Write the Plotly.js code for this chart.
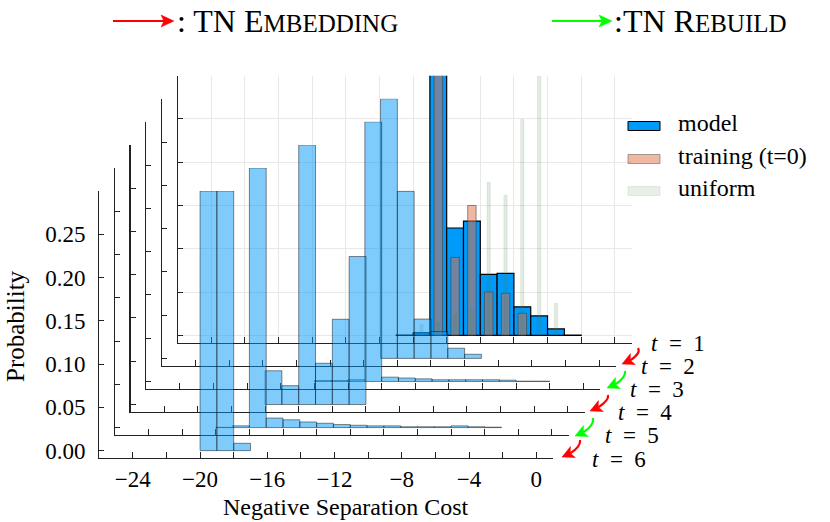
<!DOCTYPE html>
<html><head><meta charset="utf-8">
<script src="https://cdn.plot.ly/plotly-3.0.1.min.js"></script>
<style>html,body{margin:0;padding:0;background:#fff}</style>
</head><body><div id="chart" style="width:830px;height:522px"></div>
<script>
// ---------------- DATA ----------------
const stepLabels = ['t = 1', 't = 2', 't = 3', 't = 4', 't = 5', 't = 6'];
const stepOps = ['TN Embedding', 'TN Rebuild', 'TN Embedding', 'TN Rebuild', 'TN Embedding']; // transitions 1→2 ... 5→6

// t = 1 (bin centres, width 1)
const t1ModelX = [-12.5, -11.5, -10.5, -9.5, -8.5, -7.5, -6.5, -5.5, -4.5, -3.5, -2.5];
const t1ModelP = [0.0003, 0.003, 0.53, 0.124, 0.132, 0.0705, 0.0717, 0.033, 0.0224, 0.0074, 0.0003];
const trainingX = [-10.5, -9.5, -8.5, -7.5, -6.5, -5.5];
const trainingP = [0.63, 0.090, 0.150, 0.050, 0.0486, 0.0255];
const uniformX = [-11.5, -10.5, -9.5, -8.5, -7.5, -6.5, -5.5, -4.5, -3.5];
const uniformP = [0.0128, 0.0147, 0.0244, 0.030, 0.177, 0.162, 0.2495, 0.30, 0.037];

// t = 2 .. 6 model histograms
const t2X = [-12.5, -11.5, -10.5, -9.5, -8.5, -7.5];
const t2P = [0.30, 0.193, 0.0455, 0.031, 0.0118, 0.0048];
const t3X = [-15.5, -14.5, -13.5, -12.5, -11.5, -10.5, -9.5, -8.5, -7.5, -6.5, -5.5, -4.5, -3.5, -2.5];
const t3P = [0.001, 0.001, 0.002, 0.30, 0.005, 0.004, 0.003, 0.002, 0.002, 0.002, 0.002, 0.0015, 0.0003, 0.0003];
const t4X = [-17.5, -16.5, -15.5, -14.5, -13.5, -12.5];
const t4P = [0.039, 0.0218, 0.30, 0.0477, 0.0985, 0.171];
const t5X = [-19.5, -18.5, -17.5, -16.5, -15.5, -14.5, -13.5, -12.5, -11.5, -10.5, -9.5, -8.5, -7.5, -6.5, -5.5, -4.5, -3.5];
const t5P = [0.0003, 0.002, 0.30, 0.011, 0.009, 0.0065, 0.005, 0.0035, 0.0027, 0.002, 0.002, 0.001, 0.001, 0.001, 0.002, 0.001, 0.0005];
const t6X = [-19.5, -18.5, -17.5];
const t6P = [0.30, 0.30, 0.0085];

const xTickVals = [-26, -24, -22, -20, -18, -16, -14, -12, -10, -8, -6, -4, -2, 0];
const xTickText = ['', '\u221224', '', '\u221220', '', '\u221216', '', '\u221212', '', '\u22128', '', '\u22124', '', '0'];
const yTickVals = [0, 0.05, 0.10, 0.15, 0.20, 0.25];
const yTickText = ['0.00', '0.05', '0.10', '0.15', '0.20', '0.25'];

// ---------------- LAYOUT ----------------
const W = 830, H = 522;
const FONT = '"Liberation Serif", "Times New Roman", serif';
const BLUE = '#009AFA';
const LIGHT = 'rgba(0,154,250,0.5)';
const EDGE = 'rgba(0,0,0,0.45)';

const layout = {
  width: W, height: H,
  margin: {l: 0, r: 0, t: 0, b: 0},
  paper_bgcolor: '#fff', plot_bgcolor: 'rgba(0,0,0,0)',
  showlegend: false, barmode: 'overlay',
  font: {family: FONT, color: '#000', size: 21},
  shapes: [], annotations: []
};

const panelW = 453.9, panelH = 267;
for (let t = 1; t <= 6; t++) {
  const x0 = 177.7 - (t - 1) * 15.7;
  const bottom = 342.7 + (t - 1) * 23.06;
  const sfx = t === 1 ? '' : String(t);
  const front = t === 6;
  layout['xaxis' + sfx] = {
    domain: [x0 / W, (x0 + panelW) / W], anchor: 'y' + sfx,
    range: [-26, 1], showline: true, linecolor: '#222', linewidth: 1.2,
    ticks: 'inside', ticklen: 6, tickwidth: 1, tickcolor: '#222',
    tickmode: 'array', tickvals: xTickVals, ticktext: xTickText,
    showticklabels: front, ticklabelstandoff: 0,
    tickfont: {family: FONT, size: 23, color: '#000'},
    showgrid: t === 1, gridcolor: '#e8e8e8', gridwidth: 1,
    zeroline: false, fixedrange: true
  };
  layout['yaxis' + sfx] = {
    domain: [1 - bottom / H, 1 - (bottom - panelH) / H], anchor: 'x' + sfx,
    range: [-0.0085, 0.30], showline: true, linecolor: '#222', linewidth: 1.2,
    ticks: 'inside', ticklen: 5, tickwidth: 1, tickcolor: '#222',
    tickmode: 'array', tickvals: yTickVals, ticktext: yTickText,
    showticklabels: front, ticklabelstandoff: 8,
    tickfont: {family: FONT, size: 23, color: '#000'},
    showgrid: t === 1, gridcolor: '#e8e8e8', gridwidth: 1,
    zeroline: false, fixedrange: true
  };
}

// ---------------- TRACES ----------------
const traces = [];
traces.push({type: 'bar', name: 'model', x: t1ModelX, y: t1ModelP, width: 1, xaxis: 'x', yaxis: 'y',
  marker: {color: BLUE, line: {color: '#000', width: 1.2}}});
traces.push({type: 'bar', name: 'training (t=0)', x: trainingX, y: trainingP, width: 0.5, xaxis: 'x', yaxis: 'y',
  marker: {color: 'rgba(226,111,70,0.5)', line: {color: 'rgba(60,60,60,0.55)', width: 1}}});
traces.push({type: 'bar', name: 'uniform', x: uniformX, y: uniformP, width: 0.2, xaxis: 'x', yaxis: 'y',
  marker: {color: 'rgba(70,130,70,0.16)', line: {color: 'rgba(70,130,70,0.12)', width: 0.8}}});
const others = [[t2X, t2P], [t3X, t3P], [t4X, t4P], [t5X, t5P], [t6X, t6P]];
others.forEach((d, i) => {
  const t = i + 2;
  traces.push({type: 'bar', name: 'model ' + stepLabels[t - 1], x: d[0], y: d[1], width: 1,
    xaxis: 'x' + t, yaxis: 'y' + t,
    marker: {color: LIGHT, line: {color: EDGE, width: 1}}});
});

// ---------------- DECORATION (legend, labels, arrows) ----------------
const pt = (x, y) => (x / W).toFixed(5) + ',' + (1 - y / H).toFixed(5);
const S = layout.shapes, A = layout.annotations;
function ann(x, y, text, size, xanchor, extra) {
  A.push(Object.assign({xref: 'paper', yref: 'paper', x: x / W, y: 1 - y / H, text: text, showarrow: false,
    xanchor: xanchor || 'left', yanchor: 'middle', font: {family: FONT, size: size, color: '#000'}}, extra || {}));
}
function straightArrow(x0, x1, y, color) {
  S.push({type: 'path', xref: 'paper', yref: 'paper', path: 'M' + pt(x0, y) + ' L' + pt(x1 - 10, y), line: {color: color, width: 2.2}});
  S.push({type: 'path', xref: 'paper', yref: 'paper', path: 'M' + pt(x1, y) + ' L' + pt(x1 - 13, y - 6) + ' L' + pt(x1 - 10, y) + ' L' + pt(x1 - 13, y + 6) + ' Z',
    fillcolor: color, line: {color: color, width: 0.5}});
}
function curvedArrow(sx, sy, tx, ty, color) {
  let dx = -1, dy = 0.45; const L = Math.hypot(dx, dy); dx /= L; dy /= L;
  const hl = 12, hw = 6;
  const bx = tx - dx * hl, by = ty - dy * hl;
  const cx = bx - dx * 9, cy = by - dy * 9 - 2;
  const nx = -dy, ny = dx;
  S.push({type: 'path', xref: 'paper', yref: 'paper', path: 'M' + pt(sx, sy) + ' Q' + pt(cx, cy) + ' ' + pt(bx + dx * 3, by + dy * 3),
    line: {color: color, width: 2.2}});
  S.push({type: 'path', xref: 'paper', yref: 'paper',
    path: 'M' + pt(tx, ty) + ' L' + pt(bx + nx * hw, by + ny * hw) + ' L' + pt(bx + dx * 3, by + dy * 3) + ' L' + pt(bx - nx * hw, by - ny * hw) + ' Z',
    fillcolor: color, line: {color: color, width: 0.5}});
}

// header
straightArrow(113, 174, 21, '#ff0000');
ann(175, 21, ': TN E<span style="font-size:25px">MBEDDING</span>', 32, 'left');
straightArrow(552, 612, 21, '#00ff00');
ann(612, 21, ':TN R<span style="font-size:25px">EBUILD</span>', 32, 'left');

// legend
const legendRows = [
  {y: 126, label: 'model', fill: BLUE, line: '#000', lw: 1},
  {y: 159, label: 'training (t=0)', fill: 'rgba(226,111,70,0.5)', line: 'rgba(80,80,80,0.5)', lw: 1},
  {y: 191, label: 'uniform', fill: 'rgba(70,130,70,0.13)', line: 'rgba(70,130,70,0.12)', lw: 1}
];
legendRows.forEach(r => {
  S.push({type: 'rect', xref: 'paper', yref: 'paper', x0: 628 / W, x1: 660 / W, y0: 1 - (r.y + 4.5) / H, y1: 1 - (r.y - 4.5) / H,
    fillcolor: r.fill, line: {color: r.line, width: r.lw}});
  ann(676, r.y - 3, r.label, 24, 'left');
});

// step labels
const stepPos = [[649, 343], [639, 366], [628, 389], [616, 412], [603, 435], [590, 459]];
stepPos.forEach((p, i) => ann(p[0], p[1], '<i>t</i>\u2002=\u2002' + (i + 1), 23, 'left'));
const arrowPos = [[638, 348, 622, 364], [625, 371, 607, 388], [608, 395, 590, 411], [593, 418, 575, 436], [580, 440, 562, 457]];
arrowPos.forEach((a, i) => curvedArrow(a[0], a[1], a[2], a[3], stepOps[i] === 'TN Embedding' ? '#ff0000' : '#00ff00'));

// axis titles
ann(346, 507, 'Negative Separation Cost', 24, 'center');
ann(15, 326, 'Probability', 25, 'center', {textangle: -90});

Plotly.newPlot('chart', traces, layout, {staticPlot: true, displayModeBar: false});
</script>
</body></html>
